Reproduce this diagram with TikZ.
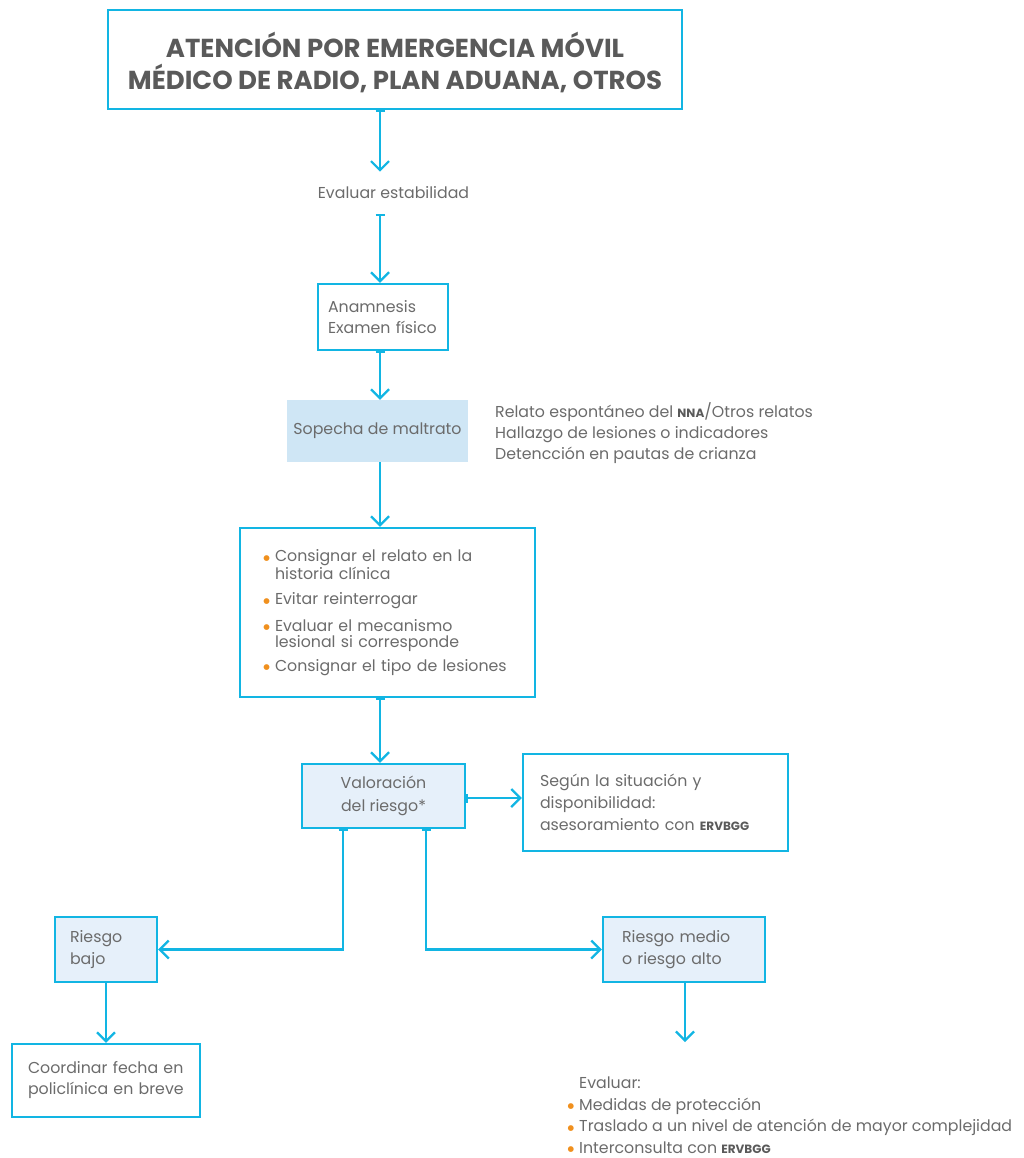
\documentclass[tikz,border=0pt]{standalone}
\usepackage{fontspec}
\setmainfont{Poppins}
\newfontfamily\symf{DejaVu Sans}
\usetikzlibrary{arrows.meta,calc}
\definecolor{cyanl}{HTML}{12B5E3}
\definecolor{txt}{HTML}{6B6B6B}
\definecolor{ttl}{HTML}{5A5A5A}
\definecolor{bulc}{HTML}{F0901E}
\definecolor{fillA}{HTML}{CFE6F5}
\definecolor{fillB}{HTML}{E6F0FA}
% orange bullet hanging to the left of an item
\newcommand{\bul}{\leavevmode\llap{{\color{bulc}\symf\fontsize{7.5}{7.5}\selectfont\raisebox{1.5pt}{●}}\hspace{5pt}}}
% small bold acronym
\newcommand{\acr}[1]{{\fontsize{12}{12}\selectfont\bfseries\color{ttl}#1}}
\tikzset{
  every node/.style={text=txt, font=\fontsize{15.8}{21}\selectfont},
  box/.style={draw=cyanl, line width=2.4pt, rectangle, inner sep=0pt},
  conn/.style={draw=cyanl, line width=2.2pt, -{Straight Barb[length=9pt,width=18pt]}},
  tconn/.style={draw=cyanl, line width=2.2pt, {Bar[width=9pt,line width=2pt]}-{Straight Barb[length=9pt,width=18pt]}}
}
\begin{document}
\begin{tikzpicture}[x=1pt,y=-1pt]
\useasboundingbox (0,0) rectangle (1023,1158);
\coordinate (cx) at (380,0);
\coordinate (lowx) at (343,0);
\coordinate (highx) at (426,0);

% title box and its heading
\node[box, minimum width=574pt, minimum height=99pt] (top) at (395,59.5) {};
\node[align=center, font=\fontsize{26}{32}\selectfont\bfseries, text=ttl] (title) at (395,62.5)
  {ATENCIÓN POR EMERGENCIA MÓVIL\\MÉDICO DE RADIO, PLAN ADUANA, OTROS};

\node[inner xsep=0pt, inner ysep=15pt] (evalst) at (393.5,193) {Evaluar estabilidad};

\node[box, minimum width=130pt, minimum height=66pt, text width=110pt, align=left] (anam) at (383,317)
  {Anamnesis\\Examen físico};

\node[fill=fillA, minimum width=181pt, minimum height=62pt, inner sep=0pt] (sosp) at (377.5,431)
  {Sopecha de maltrato};

\node[anchor=west, align=left, inner sep=0pt] (ind) at (495,433.5)
  {Relato espontáneo del \acr{NNA}/Otros relatos\\Hallazgo de lesiones o indicadores\\Detencción en pautas de crianza};

\node[box, minimum width=295pt, minimum height=169pt, text width=225pt, align=left,
      font=\fontsize{15.8}{16.5}\selectfont] (acc) at (387.5,612.5)
  {\bul Consignar el relato en la\\historia clínica\\[9pt]
   \bul Evitar reinterrogar\\[10pt]
   \bul Evaluar el mecanismo\\lesional si corresponde\\[7pt]
   \bul \mbox{Consignar el tipo de lesiones}};

\node[box, fill=fillB, minimum width=163pt, minimum height=64pt, align=center,
      font=\fontsize{15.8}{23}\selectfont] (val) at (383.5,796)
  {Valoración\\del riesgo*};

\node[box, minimum width=265pt, minimum height=97pt, text width=231pt, align=left,
      font=\fontsize{15.8}{22}\selectfont] (seg) at (655.5,802.5)
  {Según la situación y\\disponibilidad:\\asesoramiento con \acr{ERVBGG}};

\node[box, fill=fillB, minimum width=102pt, minimum height=65pt, text width=72pt, align=left,
      font=\fontsize{15.8}{22}\selectfont] (bajo) at (106,949.5)
  {Riesgo\\bajo};

\node[box, fill=fillB, minimum width=162pt, minimum height=65pt, text width=124pt, align=left,
      font=\fontsize{15.8}{22}\selectfont] (medio) at (684,949.5)
  {Riesgo medio\\o riesgo alto};

\node[box, minimum width=188pt, minimum height=73pt, text width=156pt, align=left,
      font=\fontsize{15.8}{21}\selectfont] (coord) at (106,1080.5)
  {Coordinar fecha en\\policlínica en breve};

\node[anchor=north west, align=left, inner sep=0pt, font=\fontsize{15.8}{21.5}\selectfont] (evm) at (579,1077)
  {Evaluar:\\\bul Medidas de protección\\\bul Traslado a un nivel de atención de mayor complejidad\\\bul Interconsulta con \acr{ERVBGG}};
\coordinate (medend) at (685,1042);

% connectors
\draw[tconn] (top.south -| cx) -- (evalst.north -| cx);
\draw[tconn] (evalst.south -| cx) -- (anam.north -| cx);
\draw[tconn] (anam.south -| cx) -- (sosp.north -| cx);
\draw[conn] (sosp.south -| cx) -- (acc.north -| cx);
\draw[tconn] (acc.south -| cx) -- (val.north -| cx);
\draw[tconn] (val.east |- 0,798) -- (seg.west |- 0,798);
\draw[tconn] (val.south -| lowx) |- (bajo.east);
\draw[tconn] (val.south -| highx) |- (medio.west);
\draw[conn] (bajo.south) -- (coord.north -| bajo.south);
\draw[conn] (medio.south -| medend) -- (medend);
\end{tikzpicture}
\end{document}
